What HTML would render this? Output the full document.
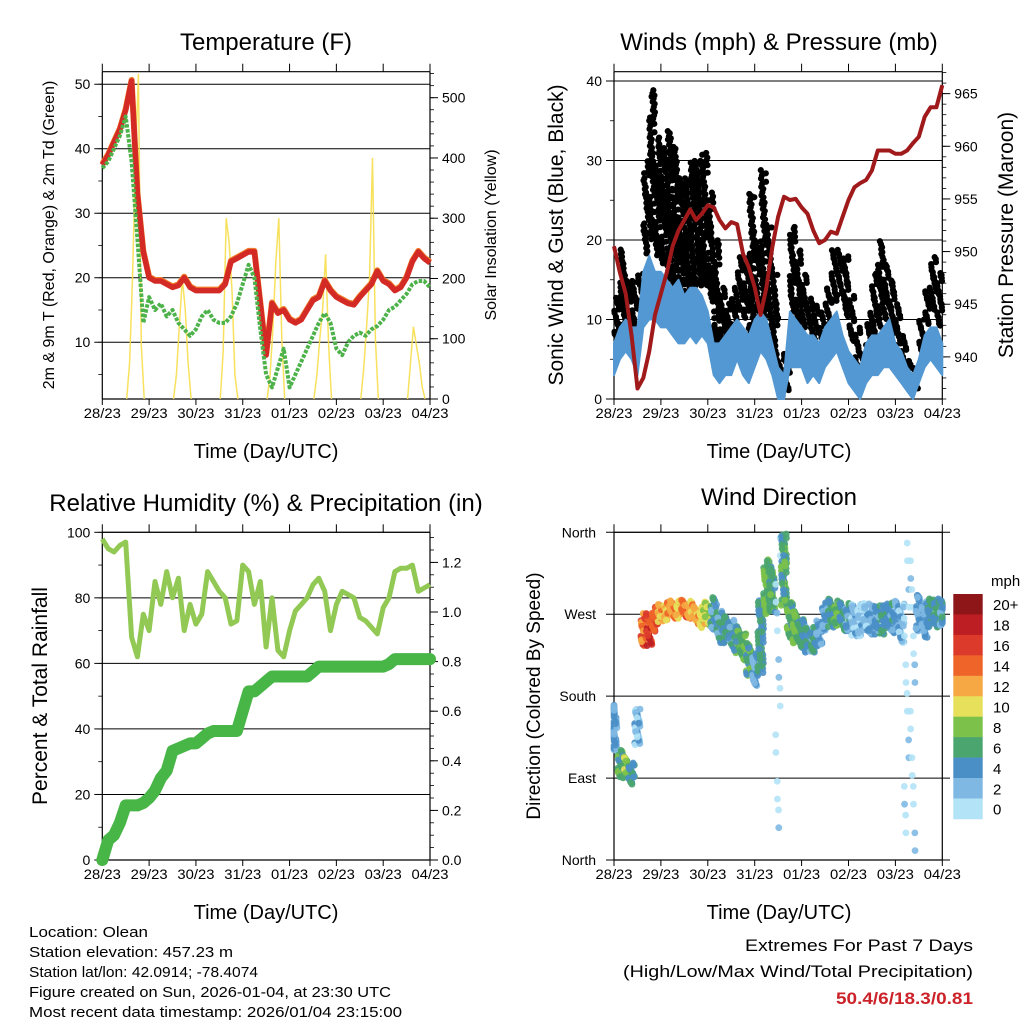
<!DOCTYPE html>
<html><head><meta charset="utf-8">
<style>
html,body{margin:0;padding:0;background:#fff;}
svg{display:block;font-family:"Liberation Sans",sans-serif;}
</style></head>
<body>
<svg id="chart" xmlns="http://www.w3.org/2000/svg" width="1024" height="1024" viewBox="0 0 1024 1024">
<rect width="1024" height="1024" fill="#fff"/>
<text x="266" y="50" font-size="24" text-anchor="middle">Temperature (F)</text>
<text x="779" y="50" font-size="24" text-anchor="middle">Winds (mph) &amp; Pressure (mb)</text>
<text x="266" y="511" font-size="24" text-anchor="middle">Relative Humidity (%) &amp; Precipitation (in)</text>
<text x="779" y="505" font-size="24" text-anchor="middle">Wind Direction</text>
<text x="266" y="458" font-size="20" text-anchor="middle">Time (Day/UTC)</text>
<text x="779" y="458" font-size="20" text-anchor="middle">Time (Day/UTC)</text>
<text x="266" y="919" font-size="20" text-anchor="middle">Time (Day/UTC)</text>
<text x="779" y="919" font-size="20" text-anchor="middle">Time (Day/UTC)</text>
<text transform="translate(54,235) rotate(-90)" font-size="16" text-anchor="middle">2m &amp; 9m T (Red, Orange) &amp; 2m Td (Green)</text>
<text transform="translate(496,235) rotate(-90)" font-size="16" text-anchor="middle">Solar Insolation (Yellow)</text>
<text transform="translate(563,235) rotate(-90)" font-size="21" text-anchor="middle">Sonic Wind &amp; Gust (Blue, Black)</text>
<text transform="translate(1013,235) rotate(-90)" font-size="21" text-anchor="middle">Station Pressure (Maroon)</text>
<text transform="translate(47,696) rotate(-90)" font-size="21" text-anchor="middle">Percent &amp; Total Rainfall</text>
<text transform="translate(540,696) rotate(-90)" font-size="19" text-anchor="middle">Direction (Colored By Speed)</text>
<g font-size="15">
<text x="29" y="937" textLength="119" lengthAdjust="spacingAndGlyphs">Location: Olean</text>
<text x="29" y="957" textLength="204" lengthAdjust="spacingAndGlyphs">Station elevation: 457.23 m</text>
<text x="29" y="977" textLength="229" lengthAdjust="spacingAndGlyphs">Station lat/lon: 42.0914; -78.4074</text>
<text x="29" y="997" textLength="362" lengthAdjust="spacingAndGlyphs">Figure created on Sun, 2026-01-04, at 23:30 UTC</text>
<text x="29" y="1017" textLength="373" lengthAdjust="spacingAndGlyphs">Most recent data timestamp: 2026/01/04 23:15:00</text>
</g>
<text x="973" y="951" font-size="17" text-anchor="end" textLength="228" lengthAdjust="spacingAndGlyphs">Extremes For Past 7 Days</text>
<text x="973" y="977" font-size="17" text-anchor="end" textLength="350" lengthAdjust="spacingAndGlyphs">(High/Low/Max Wind/Total Precipitation)</text>
<text x="973" y="1004" font-size="17" font-weight="bold" fill="#cc2229" text-anchor="end" textLength="137" lengthAdjust="spacingAndGlyphs">50.4/6/18.3/0.81</text>
</svg>
<script>
const hours=[0,3,6,9,12,15,18,21,24,27,30,33,36,39,42,45,48,51,54,57,60,63,66,69,72,75,78,81,84,87,90,93,96,99,102,105,108,111,114,117,120,123,126,129,132,135,138,141,144,147,150,153,156,159,162,165,168];
const dayLabels=["28/23","29/23","30/23","31/23","01/23","02/23","03/23","04/23"];
const tempRed=[37.5,39,41,43,46,50.5,33,24,20,19.5,19.5,19,18.5,18.8,20,18.5,18,18,18,18,18,19,22.5,23,23.5,24,24,16,8,16,14.5,15,13.5,13,13.5,15,16.5,17,19.5,18,17,16.5,16,15.8,17,18,19,21,19.5,19,18,18.5,20,22.5,24,23,22.3];
const tempDew=[37,38,40,42,45,38,26,13,17,15,16,14,15,13,12,11,12,14,15,13.5,13,13,14,16,19,22,20,12,5,3,6,9,3,5,7,9,11,13,14.5,13,9,8,10,11,11.5,11,12,12.5,13.5,15,15.5,16.5,17.5,19,19.5,19.5,18.5];
const solarTimes=[12.5,14,15.5,17,18.5,20,21.5];
const solarDay0=[0,60,200,400,540,90,0];
const solarDay1=[0,40,120,200,150,60,0];
const solarDay2=[0,80,300,260,180,40,0];
const solarDay3=[0,40,120,230,300,100,0];
const solarDay4=[0,40,100,150,240,90,0];
const solarDay5=[0,50,120,200,400,100,0];
const solarDay6=[0,60,120,90,60,20,0];
const windLo=[3,5,6,5,3,9,10,10,9,9,8,7,7,8,7,8,7,3,2,3,3,5,3,2,4,6,5,3,0,0,4,4,4,2,3,2,4,5,6,4,2,1,0,2,3,3,4,4,3,2,1,0,2,4,5,4,3];
const windHi=[7,9,10,9,9,16,18,16,16,15,14,15,13,14,14,13,11,7,7,8,9,10,9,8,10,11,10,7,4,3,11,10,9,8,8,7,9,10,11,8,6,5,4,7,8,8,9,10,7,6,4,3,5,8,9,9,7];
const gustLo=[8,9,9,8,10,18,20,18,17,15,14,14,13,13,14,14,12,5,6,7,8,11,10,7,9,10,9,4,0,1,11,9,9,6,7,5,9,12,13,10,7,3,3,5,8,9,10,7,6,3,2,1,5,9,11,9,6];
const gustHi=[13,19,15,15,16,30,39,33,32,34,32,28,28,30,30,31,26,20,14,12,14,18,17,26,20,29,22,16,5,6,22,19,16,13,12,11,14,19,19,18,13,9,6,11,16,20,17,15,12,8,5,4,10,14,18,16,14];
const pressure=[950.5,948,946,942,937,938,940.5,944,946,948,950.5,952,953,954,953,953.6,954.4,954.2,953,952.2,952.8,952.6,949.8,948.5,946.6,944,946.6,950.4,953.3,955.2,954.9,955,954.2,953.6,952,950.8,951.1,951.9,951.7,953.3,954.9,956.1,956.5,956.8,957.7,959.6,959.6,959.6,959.3,959.3,959.6,960.3,960.9,962.8,963.7,963.7,965.8];
const rh=[98,95,94,96,97,68,62,75,70,85,78,88,80,86,70,78,72,75,88,85,82,80,72,73,90,88,78,85,65,80,64,62,70,76,78,80,84,86,82,70,78,82,81,80,74,73,71,69,77,80,88,89,89,90,82,83,84];
const precip=[0,0.08,0.1,0.15,0.22,0.22,0.22,0.23,0.25,0.28,0.33,0.36,0.44,0.45,0.46,0.47,0.47,0.49,0.51,0.52,0.52,0.52,0.52,0.52,0.6,0.68,0.68,0.7,0.72,0.74,0.74,0.74,0.74,0.74,0.74,0.74,0.76,0.78,0.78,0.78,0.78,0.78,0.78,0.78,0.78,0.78,0.78,0.78,0.78,0.79,0.81,0.81,0.81,0.81,0.81,0.81,0.81];
const dirCenter=[146,106,102,95,146,253,253,264,271,273,275,275,276,275,269,267,271,271,256,253,249,242,234,220,209,245,300,297,180,319,264,256,249,242,242,249,267,271,271,267,267,264,264,267,264,264,264,267,267,260,180,180,271,264,271,271,271];
const dirSpread=[25,15,12,12,20,18,18,14,10,10,10,10,10,10,10,12,14,18,18,15,15,15,15,18,18,40,30,25,175,40,20,18,16,14,14,14,16,16,14,16,16,18,18,16,16,16,16,16,18,22,175,175,20,20,16,16,14];
const dirSpeed=[4,7,9,6,3,15,17,16,13,13,14,12,15,13,13,11,10,5,5,6,5,7,8,7,4,6,8,7,1,7,7,8,6,5,6,4,4,6,8,6,5,3,3,3,4,5,6,5,4,3,1,1,4,4,6,6,5];
const cbLabels=["20+","18","16","14","12","10","8","6","4","2","0"];
const cbColors=["#8e1518","#bd1e24","#dc3b2c","#ef6429","#f5a843","#e6e05a","#7cc24a","#4aa56f","#4a8fc6","#7fb9e3","#b3e3f7"];

const NS='http://www.w3.org/2000/svg';
const svg=document.getElementById('chart');
function mk(tag,attrs,parent){const e=document.createElementNS(NS,tag);for(const k in attrs)e.setAttribute(k,attrs[k]);(parent||svg).appendChild(e);return e;}
function grp(name){const g=mk('g',{});return g;}
const golden=0.6180339887;
function frac(k){return (k*golden)%1;}
function frac2(k){return (k*0.7548776662+0.31)%1;}

function makePanel(L,R,T,B){
  const p={L,R,T,B};
  p.x=h=>L+h*(R-L)/168;
  return p;
}
function xAxis(p,name){
  const g=grp(name);
  mk('line',{x1:p.L,y1:p.B,x2:p.R,y2:p.B,stroke:'#000','stroke-width':1.2},g);
  mk('line',{x1:p.L,y1:p.T,x2:p.R,y2:p.T,stroke:'#000','stroke-width':1.2},g);
  for(let d=0;d<dayLabels.length;d++){
    const x=p.x(d*24);
    mk('line',{x1:x,y1:p.T,x2:x,y2:p.T-8,stroke:'#000','stroke-width':1},g);
    mk('line',{x1:x,y1:p.B,x2:x,y2:p.B+6,stroke:'#000','stroke-width':1},g);
    const t=mk('text',{x:x,y:p.B+19,'font-size':14,'text-anchor':'middle',textLength:37,lengthAdjust:'spacingAndGlyphs'},g);
    t.textContent=dayLabels[d];
    
    
  }
}
function yAxis(p,side,yf,majors,minors,fmt,name,grid,lblSize){
  const g=grp(name);
  const X=side==='L'?p.L:p.R, s=side==='L'?-1:1;
  mk('line',{x1:X,y1:p.T,x2:X,y2:p.B,stroke:'#000','stroke-width':1.2},g);
  minors.forEach(v=>{const y=yf(v);if(y<p.T-0.5||y>p.B+0.5)return;mk('line',{x1:X,y1:y,x2:X+s*4,y2:y,stroke:'#000','stroke-width':0.8},g);});
  majors.forEach(v=>{const y=yf(v);
    mk('line',{x1:X,y1:y,x2:X+s*8,y2:y,stroke:'#000','stroke-width':1},g);
    if(grid)mk('line',{x1:p.L,y1:y,x2:p.R,y2:y,stroke:'#000','stroke-width':1},g);
    const t=mk('text',{x:X+s*12,y:y+5,'font-size':lblSize||14,'text-anchor':side==='L'?'end':'start'},g);
    t.textContent=fmt(v);
    
    
  });
}
function range(a,b,s){const r=[];for(let v=a;v<=b+1e-9;v+=s)r.push(+v.toFixed(4));return r;}
function poly(pts){return pts.map(q=>q[0].toFixed(1)+','+q[1].toFixed(1)).join(' ');}

// ---- Panel 1: Temperature ----
const p1=makePanel(102.3,430,71.7,399);
const yT=v=>399-(v-1.2)*6.45;
const ySol=v=>399-v*0.6026;
yAxis(p1,'L',yT,[10,20,30,40,50],range(5,50,5),v=>v,'temp-left-axis',true);
yAxis(p1,'R',ySol,range(0,500,100),range(0,540,20),v=>v,'solar-right-axis',false);
xAxis(p1,'temp-x-axis');
const solarDays=[solarDay0,solarDay1,solarDay2,solarDay3,solarDay4,solarDay5,solarDay6];
const gs=grp('solar-series');
solarDays.forEach((arr,d)=>{
  const pts=arr.map((v,i)=>[p1.x(d*24+solarTimes[i]),ySol(v)]);
  const pl=mk('polyline',{points:poly(pts),fill:'none',stroke:'#f7de4d','stroke-width':1.5,opacity:0.9},gs);
  
  
});
const orange=mk('polyline',{points:poly(hours.map((h,i)=>[p1.x(h),yT(tempRed[i])-1])),fill:'none',stroke:'#f07b2a','stroke-width':6,'stroke-linejoin':'round'});


const red=mk('polyline',{points:poly(hours.map((h,i)=>[p1.x(h),yT(tempRed[i])])),fill:'none',stroke:'#d42a26','stroke-width':5.5,'stroke-linejoin':'round'});


const dew=mk('polyline',{points:poly(hours.map((h,i)=>[p1.x(h),yT(tempDew[i])])),fill:'none',stroke:'#4db24a','stroke-width':4,'stroke-dasharray':'3.5 1.5','stroke-linejoin':'round'});



// ---- Panel 2: Winds ----
const p2=makePanel(614,942.3,71.7,399);
const yW=v=>399-v*7.95;
const yP=v=>399-(v-936)*10.53;
yAxis(p2,'L',yW,[0,10,20,30,40],range(0,40,5),v=>v,'wind-left-axis',true);
yAxis(p2,'R',yP,range(940,965,5),range(936,967,1),v=>v,'pressure-right-axis',false);
xAxis(p2,'winds-x-axis');
const gg=grp('gust-points');
for(let i=0;i<hours.length-1;i++){
  const n=Math.max(8,Math.round((gustHi[i]-gustLo[i])*3.2));
  for(let k=0;k<n;k++){
    const f=frac(k+i*7), h=hours[i]+frac2(k+i*3)*3;
    const c=mk('circle',{cx:p2.x(h),cy:yW(gustLo[i]+(gustHi[i]-gustLo[i])*f),r:3.1,fill:'#000'},gg);
    
    
  }
}
const band=[];
hours.forEach((h,i)=>band.push([p2.x(h),yW(windHi[i])]));
for(let i=hours.length-1;i>=0;i--)band.push([p2.x(hours[i]),yW(windLo[i])]);
const wb=mk('polygon',{points:poly(band),fill:'#5398d2',stroke:'#5398d2','stroke-width':2,'stroke-linejoin':'round'});


const pl2=mk('polyline',{points:poly(hours.map((h,i)=>[p2.x(h),yP(pressure[i])])),fill:'none',stroke:'#a0191b','stroke-width':4,'stroke-linejoin':'round'});



// ---- Panel 3: RH & precip ----
const p3=makePanel(102.3,430,532.3,860);
const yRH=v=>860-v*3.277;
const yPr=v=>860-v*248;
yAxis(p3,'L',yRH,range(0,100,20),range(0,100,10),v=>v,'rh-left-axis',true);
yAxis(p3,'R',yPr,range(0,1.2,0.2),range(0,1.3,0.05),v=>v.toFixed(1),'precip-right-axis',false);
xAxis(p3,'rh-x-axis');
const rl=mk('polyline',{points:poly(hours.map((h,i)=>[p3.x(h),yRH(rh[i])])),fill:'none',stroke:'#92c955','stroke-width':5,'stroke-linejoin':'round'});


const prl=mk('polyline',{points:poly(hours.map((h,i)=>[p3.x(h),yPr(precip[i])])),fill:'none',stroke:'#48b547','stroke-width':12,'stroke-linejoin':'round','stroke-linecap':'round'});



// ---- Panel 4: Wind direction ----
const p4=makePanel(614,942.3,532.3,860);
const yD=d=>860-d*(327.7/360);
const dirLabels=["North","East","South","West","North"];
const gd=grp('direction-axis');
mk('line',{x1:p4.L,y1:p4.T,x2:p4.L,y2:p4.B,stroke:'#000','stroke-width':1.2},gd);
mk('line',{x1:p4.R,y1:p4.T,x2:p4.R,y2:p4.B,stroke:'#000','stroke-width':1.2},gd);
[0,90,180,270,360].forEach((d,i)=>{
  const y=yD(d);
  mk('line',{x1:606,y1:y,x2:950,y2:y,stroke:'#000','stroke-width':1},gd);
  const t=mk('text',{x:596,y:y+5,'font-size':14,'text-anchor':'end'},gd);
  t.textContent=dirLabels[i];
  
  
});
xAxis(p4,'dir-x-axis');
function spdColor(s){const idx=Math.min(10,Math.floor(s/2));return cbColors[10-idx];}
const gdp=grp('direction-points');
for(let i=0;i<hours.length;i++){
  const n=dirSpread[i]>100?16:Math.round(dirSpread[i]*1.4)+10;
  for(let k=0;k<n;k++){
    let d=dirCenter[i]+(frac(k+i*5)*2-1)*dirSpread[i];
    if(d<0)d+=360; if(d>360)d-=360;
    const h=Math.min(168,hours[i]+(frac2(k+i*11)-0.5)*3);
    const sp=Math.max(0,dirSpeed[i]+(frac2(k*3+i)-0.5)*4);
    const c=mk('circle',{cx:p4.x(Math.max(0,h)),cy:yD(d),r:3.4,fill:spdColor(sp),opacity:0.9},gdp);
    
    
  }
}
// colorbar
const gcb=grp('speed-colorbar');
const cbTop=594,cbH=20.45;
cbColors.forEach((c,i)=>{
  const r=mk('rect',{x:953.3,y:cbTop+i*cbH,width:29.4,height:cbH+0.3,fill:c},gcb);
  
  
  const t=mk('text',{x:993,y:cbTop+i*cbH+cbH/2+6,'font-size':15},gcb);
  t.textContent=cbLabels[i];
  
  
});
const mph=mk('text',{x:991,y:586,'font-size':15},gcb);
mph.textContent='mph';


</script>
</body></html>
